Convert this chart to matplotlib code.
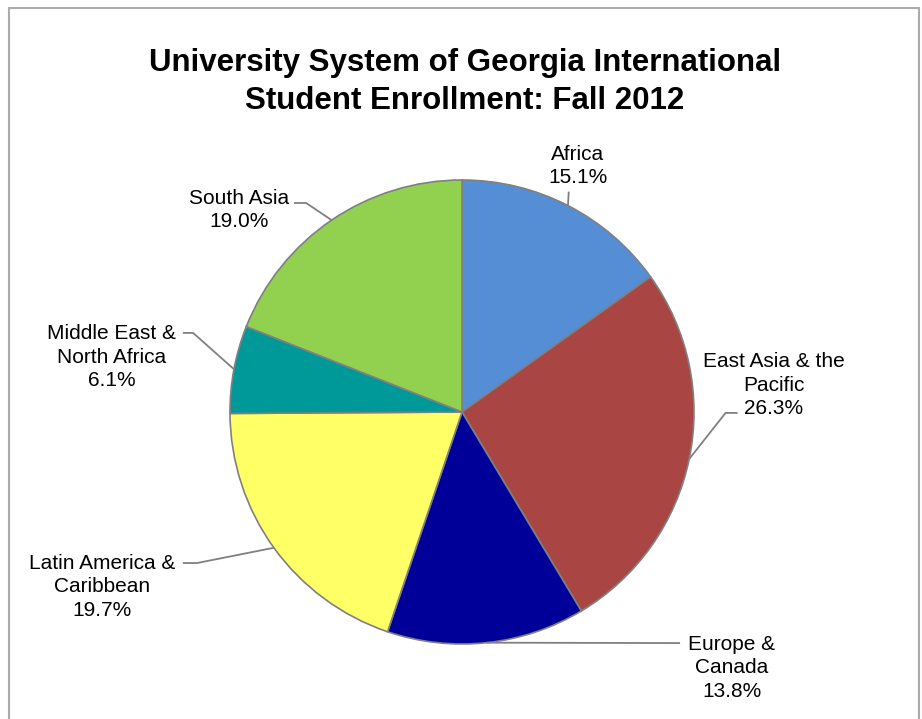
import numpy as np
import matplotlib
matplotlib.use('Agg')
import matplotlib.pyplot as plt
from matplotlib.patches import Rectangle

plt.rcParams['font.family'] = ['Liberation Sans', 'DejaVu Sans']

regions = ['Africa', 'East Asia & the\nPacific', 'Europe &\nCanada',
           'Latin America &\nCaribbean', 'Middle East &\nNorth Africa', 'South Asia']
shares = [15.1, 26.3, 13.8, 19.7, 6.1, 19.0]
colors = ['#558ED5', '#A94643', '#000099', '#FFFF66', '#009999', '#92D050']

# label text centre and leader elbow/end, in pie-radius units
label_pos = [(0.50, 1.06), (1.345, 0.116), (1.164, -1.103),
             (-1.552, -0.754), (-1.509, 0.237), (-0.961, 0.871)]
leader_pts = [[(0.46, 0.95)],
              [(1.136, -0.004), (1.188, -0.004)],
              [(0.94, -0.996)],
              [(-1.142, -0.651), (-1.203, -0.651)],
              [(-1.159, 0.341), (-1.203, 0.341)],
              [(-0.672, 0.901), (-0.724, 0.901)]]

W, H = 922, 719
cx, cy, R = 462, 412, 232

fig = plt.figure(figsize=(W / 100, H / 100), dpi=100)
ax = fig.add_axes([0, 0, 1, 1])

wedges, _ = ax.pie(shares, colors=colors, startangle=90, counterclock=False,
                   radius=1.0,
                   wedgeprops=dict(edgecolor='#808080', linewidth=1.2))

ax.set_xlim(-cx / R, (W - cx) / R)
ax.set_ylim(-(H - cy) / R, cy / R)
ax.set_aspect('auto')
ax.axis('off')

for w, name, val, (tx, ty), pts in zip(wedges, regions, shares, label_pos, leader_pts):
    mid = np.deg2rad((w.theta1 + w.theta2) / 2)
    ex, ey = np.cos(mid), np.sin(mid)
    xs = [ex] + [p[0] for p in pts]
    ys = [ey] + [p[1] for p in pts]
    ax.plot(xs, ys, color='#808080', lw=1.3, solid_capstyle='butt')
    ax.text(tx, ty, '%s\n%.1f%%' % (name, val), ha='center', va='center',
            fontsize=15, linespacing=1.3, color='black')

fig.text(465 / W, 1 - 82 / H,
         'University System of Georgia International\nStudent Enrollment: Fall 2012',
         ha='center', va='center', fontsize=22.5, fontweight='bold', linespacing=1.35)

fig.patches.append(Rectangle((8.5 / W, -5 / H), 910 / W, 716 / H,
                             transform=fig.transFigure, fill=False,
                             edgecolor='#ABABAB', linewidth=1.5))

fig.savefig('out.png', dpi=100, facecolor='white')
